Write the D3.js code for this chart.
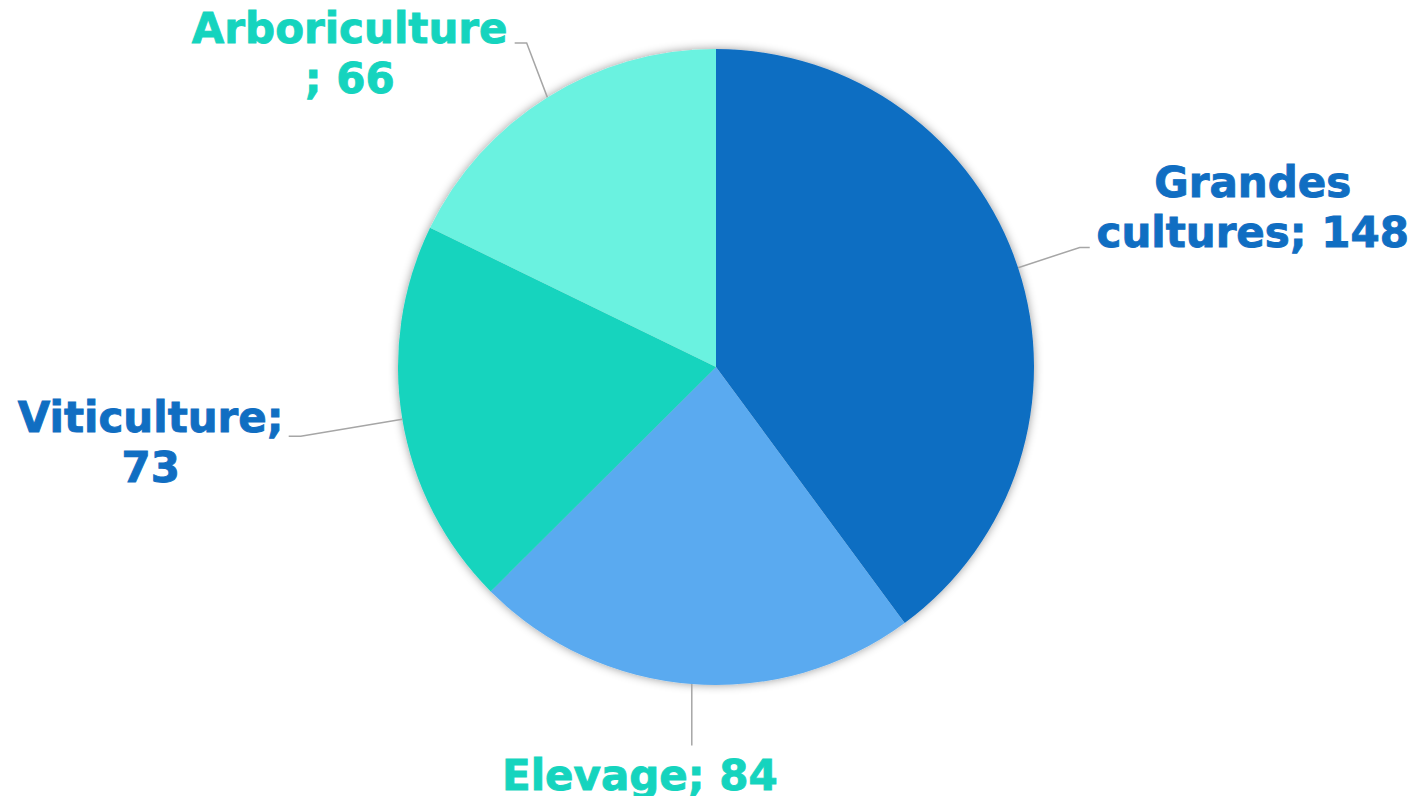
<!DOCTYPE html>
<html lang="fr">
<head>
    <meta charset="UTF-8">
    <title>Répartition par filière</title>
    <script src="https://d3js.org/d3.v7.min.js"></script>
    <style>
        body {
            margin: 0;
            background-color: #ffffff;
        }
        .label {
            font-family: Verdana, "DejaVu Sans", sans-serif;
            font-weight: bold;
            font-size: 42px;
            text-anchor: middle;
            stroke-width: 0.9px;
        }
        .leader {
            fill: none;
            stroke: #a6a6a6;
            stroke-width: 1.5;
        }
    </style>
</head>
<body>
    <svg id="chart" width="1428" height="796"></svg>

    <script>
        // data
        const categories = ["Grandes cultures", "Elevage", "Viticulture", "Arboriculture"];
        const values = [148, 84, 73, 66];
        const sliceColors = ["#106ec2", "#5aaaf0", "#15d4be", "#6af2e0"];
        const labelColors = ["#106ec2", "#15d4be", "#106ec2", "#15d4be"];

        // how each label is wrapped and placed (like the excel layout)
        const labelLayout = [
            {lines: ["Grandes", "cultures; 148"], k: 1.204, shift: 0, tail: 10, dx: 163, dy: -50},
            {lines: ["Elevage; 84"], k: 1.19, shift: 0, vertical: true, tail: 0, dx: -52, dy: 45},
            {lines: ["Viticulture;", "73"], k: 1.324, shift: 0, tail: -12, dx: -138, dy: -4},
            {lines: ["Arboriculture", "; 66"], k: 1.18, shift: 0.03, tail: -12, dx: -165, dy: 0}
        ];

        const width = 1428;
        const height = 796;
        const cx = 716, cy = 367;
        const radius = 318;
        const lineHeight = 50;

        const svg = d3.select("#chart");

        const defs = svg.append("defs");
        const filter = defs.append("filter")
            .attr("id", "shadow")
            .attr("x", "-10%").attr("y", "-10%")
            .attr("width", "120%").attr("height", "120%");
        filter.append("feDropShadow")
            .attr("dx", 0)
            .attr("dy", 0)
            .attr("stdDeviation", 5)
            .attr("flood-color", "#000")
            .attr("flood-opacity", 0.4);

        const g = svg.append("g")
            .attr("transform", `translate(${cx},${cy})`);

        const data = categories.map((c, i) => ({name: c, value: values[i], i: i}));

        const pie = d3.pie()
            .sort(null)
            .value(d => d.value);

        const arc = d3.arc()
            .innerRadius(0)
            .outerRadius(radius);

        const arcs = pie(data);

        g.append("g")
            .attr("filter", "url(#shadow)")
            .selectAll("path")
            .data(arcs)
            .join("path")
            .attr("d", arc)
            .attr("fill", d => sliceColors[d.data.i]);

        // point on a circle, angle measured clockwise from the top
        function polar(a, r) {
            return [Math.sin(a) * r, -Math.cos(a) * r];
        }

        arcs.forEach(d => {
            const lay = labelLayout[d.data.i];
            const mid = (d.startAngle + d.endAngle) / 2;
            const p0 = polar(mid, radius);
            let p1 = polar(mid + lay.shift, radius * lay.k);
            if (lay.vertical) p1 = [p0[0], radius * lay.k];
            const p2 = [p1[0] + lay.tail, p1[1]];

            g.append("polyline")
                .attr("class", "leader")
                .attr("points", [p0, p1, p2].map(p => p.join(",")).join(" "));

            const text = g.append("text")
                .attr("class", "label")
                .attr("fill", labelColors[d.data.i])
                .attr("stroke", labelColors[d.data.i])
                .attr("x", p2[0] + lay.dx)
                .attr("y", p2[1] + lay.dy);

            lay.lines.forEach((l, j) => {
                text.append("tspan")
                    .attr("x", p2[0] + lay.dx)
                    .attr("y", p2[1] + lay.dy + j * lineHeight)
                    .text(l);
            });
        });
    </script>
</body>
</html>
